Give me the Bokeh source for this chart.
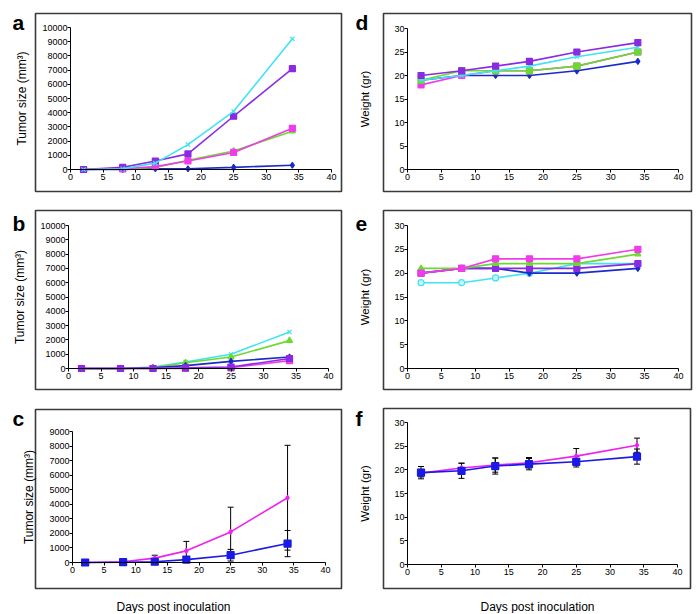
from bokeh.plotting import figure
from bokeh.layouts import column, row
from bokeh.models import (ColumnDataSource, BoxAnnotation, Label, FixedTicker, Whisker,
                          TeeHead, Range1d)
from bokeh.embed import file_html
from bokeh.resources import INLINE

days = [2, 8, 13, 18, 25, 34]
x_ticks = [0, 5, 10, 15, 20, 25, 30, 35, 40]
tumor_ticks_ab = [0, 1000, 2000, 3000, 4000, 5000, 6000, 7000, 8000, 9000, 10000]
tumor_ticks_c = [0, 1000, 2000, 3000, 4000, 5000, 6000, 7000, 8000, 9000]
weight_ticks = [0, 5, 10, 15, 20, 25, 30]

# Panel a: tumor size
a_cyan = [0, 50, 450, 1750, 4100, 9200]
a_purple = [0, 150, 600, 1100, 3750, 7100]
a_magenta = [0, 50, 200, 600, 1200, 2900]
a_green = [0, 50, 150, 650, 1300, 2700]
a_blue = [0, 0, 50, 50, 150, 300]

# Panel b: tumor size
b_cyan = [0, 0, 100, 450, 1000, 2550]
b_green = [0, 0, 50, 400, 800, 1950]
b_blue = [0, 0, 50, 200, 500, 800]
b_purple = [0, 0, 0, 50, 100, 700]
b_magenta = [0, 0, 0, 0, 50, 550]

# Panel c: tumor size mean +/- error
c_magenta = [0, 50, 300, 800, 2100, 4450]
c_magenta_err = [0, 20, 200, 650, 1700, 3600]
c_blue = [0, 20, 50, 200, 500, 1300]
c_blue_err = [0, 20, 50, 150, 400, 900]

# Panel d: weight
d_purple = [20, 21, 22, 23, 25, 27]
d_cyan = [19, 20, 21, 22, 24, 26]
d_green = [19, 21, 21, 21, 22, 25]
d_magenta = [18, 20, 21, 21, 22, 25]
d_blue = [19, 20, 20, 20, 21, 23]

# Panel e: weight
e_magenta = [20, 21, 23, 23, 23, 25]
e_green = [21, 21, 22, 22, 22, 24]
e_purple = [20, 21, 21, 21, 21, 22]
e_blue = [20, 21, 21, 20, 20, 21]
e_cyan = [18, 18, 19, 20, 22, 22]

# Panel f: weight mean +/- error
f_magenta = [19.3, 20.4, 21.0, 21.5, 22.9, 25.2]
f_magenta_err = [0.8, 1.0, 1.5, 1.1, 1.6, 1.5]
f_blue = [19.4, 19.8, 20.8, 21.2, 21.7, 22.8]
f_blue_err = [1.3, 1.6, 1.7, 1.2, 1.1, 1.6]

CYAN = "#3FE3F2"
PURPLE = "#8A2BE2"
MAGENTA = "#F03CE8"
GREEN = "#6ADB2E"
BLUE = "#1B2ACB"
C_MAG = "#F020F0"
C_BLUE = "#1A1AE6"
FONT = "Liberation Sans"


def panel(w, h, xpix, ypix, ymax, yticks, ylabel, ylabel_size, ylabel_standoff, box,
          letter, letter_xy, xlabel=None, xlabel_xy=None):
    """xpix: canvas px of x=0 and x=40; ypix: canvas px (from top) of y=0 and y=ymax."""
    x0p, x40p = xpix
    y0p, ytp = ypix
    sx = 40.0 / (x40p - x0p)
    sy = ymax / float(y0p - ytp)

    def dx(px):
        return (px - x0p) * sx

    def dy(py):
        return (y0p - py) * sy

    p = figure(width=w, height=h, x_range=Range1d(dx(0), dx(w)), y_range=Range1d(dy(h), dy(0)),
               output_backend="svg", toolbar_location=None, title=None,
               min_border=0, min_border_left=0, min_border_right=0,
               min_border_top=0, min_border_bottom=0)
    p.outline_line_color = None
    p.xgrid.visible = False
    p.ygrid.visible = False
    p.background_fill_color = "white"
    p.border_fill_color = "white"
    p.xaxis.ticker = FixedTicker(ticks=x_ticks)
    p.yaxis.ticker = FixedTicker(ticks=yticks)
    p.xaxis.fixed_location = 0
    p.yaxis.fixed_location = 0
    p.xaxis.bounds = (0, 40)
    p.yaxis.bounds = (0, ymax)
    for ax in (p.xaxis, p.yaxis):
        ax.axis_line_color = "black"
        ax.axis_line_width = 1
        ax.major_tick_line_color = "black"
        ax.major_tick_in = 0
        ax.major_tick_out = 3
        ax.minor_tick_line_color = None
        ax.major_label_text_font = FONT
        ax.major_label_text_font_size = "9px"
        ax.major_label_text_color = "black"
    p.xaxis.major_label_standoff = 1
    p.yaxis.major_label_standoff = 0
    p.yaxis.axis_label = ylabel
    p.yaxis.axis_label_text_font = FONT
    p.yaxis.axis_label_text_font_style = "normal"
    p.yaxis.axis_label_text_color = "black"
    p.yaxis.axis_label_text_font_size = ylabel_size
    p.yaxis.axis_label_standoff = ylabel_standoff
    bx0, bx1, by0, by1 = box
    p.add_layout(BoxAnnotation(left=dx(bx0), right=dx(bx1), top=dy(by0), bottom=dy(by1),
                               fill_color=None, fill_alpha=0, line_color="#3a3a3a",
                               line_alpha=1.0, line_width=1.6, level="underlay"))
    p.add_layout(Label(x=dx(letter_xy[0]), y=dy(letter_xy[1]),
                       text=letter, text_font=FONT, text_font_style="bold",
                       text_font_size="21px", text_baseline="alphabetic", text_align="left",
                       text_color="black"))
    if xlabel:
        p.add_layout(Label(x=dx(xlabel_xy[0]), y=dy(xlabel_xy[1]),
                           text=xlabel, text_font=FONT, text_font_size="12px",
                           text_baseline="alphabetic", text_align="center", text_color="black"))
    return p


def series(p, ys, color, marker, size=6, fill=None):
    p.line(days, ys, line_color=color, line_width=1.6)
    p.scatter(days, ys, marker=marker, size=size, line_color=color,
              fill_color=fill if fill else color, line_width=1.2)


def errs(p, ys, es):
    src = ColumnDataSource(dict(x=days, upper=[y + e for y, e in zip(ys, es)],
                                lower=[y - e for y, e in zip(ys, es)]))
    p.add_layout(Whisker(source=src, base="x", upper="upper", lower="lower",
                         line_color="black", line_width=1,
                         upper_head=TeeHead(size=6, line_color="black", line_width=1),
                         lower_head=TeeHead(size=6, line_color="black", line_width=1)))


TUMOR = "Tumor size (mm\u00b3)"
WEIGHT = "Weight (gr)"

pa = panel(345, 200, (70, 331), (169, 27), 10000, tumor_ticks_ab, TUMOR, "12px", 10,
           (35, 341, 13, 191), "a", (12, 22))
series(pa, a_blue, BLUE, "diamond", 6)
series(pa, a_green, GREEN, "triangle", 6)
series(pa, a_magenta, MAGENTA, "square", 6)
series(pa, a_purple, PURPLE, "square_x", 6)
series(pa, a_cyan, CYAN, "x", 6)

pb = panel(345, 199, (68, 328), (168, 25), 10000, tumor_ticks_ab, TUMOR, "12px", 10,
           (35, 341, 10, 189), "b", (12, 23))
series(pb, b_cyan, CYAN, "x", 6)
series(pb, b_green, GREEN, "triangle", 6)
series(pb, b_blue, BLUE, "diamond", 6)
series(pb, b_magenta, MAGENTA, "square", 6)
series(pb, b_purple, PURPLE, "square", 6)

pc = panel(345, 214, (72, 325), (163, 32), 9000, tumor_ticks_c, TUMOR, "12px", 10,
           (35, 341, 10, 189), "c", (12, 19), "Days post inoculation", (173, 207))
errs(pc, c_magenta, c_magenta_err)
errs(pc, c_blue, c_blue_err)
series(pc, c_magenta, C_MAG, "diamond", 5)
series(pc, c_blue, C_BLUE, "square", 7)

pd_ = panel(353, 200, (62, 333), (169, 28), 30, weight_ticks, WEIGHT, "11.5px", 20,
            (38, 346, 13, 191), "d", (10, 22))
series(pd_, d_blue, BLUE, "diamond", 6)
series(pd_, d_magenta, MAGENTA, "square", 6)
series(pd_, d_green, GREEN, "square", 6)
series(pd_, d_cyan, CYAN, "x", 6)
series(pd_, d_purple, PURPLE, "square", 6)

pe = panel(353, 199, (62, 333), (168, 25), 30, weight_ticks, WEIGHT, "11.5px", 20,
           (38, 346, 10, 189), "e", (10, 23))
series(pe, e_cyan, CYAN, "circle", 6, fill="#c8f6fb")
series(pe, e_blue, BLUE, "diamond", 6)
series(pe, e_purple, PURPLE, "square", 6)
series(pe, e_green, GREEN, "triangle", 6)
series(pe, e_magenta, MAGENTA, "square", 6)

pf = panel(353, 214, (62, 332), (165, 23), 30, weight_ticks, WEIGHT, "11.5px", 20,
           (38, 345, 9, 189), "f", (10, 19), "Days post inoculation", (192, 207))
errs(pf, f_magenta, f_magenta_err)
errs(pf, f_blue, f_blue_err)
series(pf, f_magenta, C_MAG, "diamond", 5)
series(pf, f_blue, C_BLUE, "square", 7)

layout = column(row(pa, pd_), row(pb, pe), row(pc, pf))
open("out.html", "w").write(file_html(layout, INLINE))
